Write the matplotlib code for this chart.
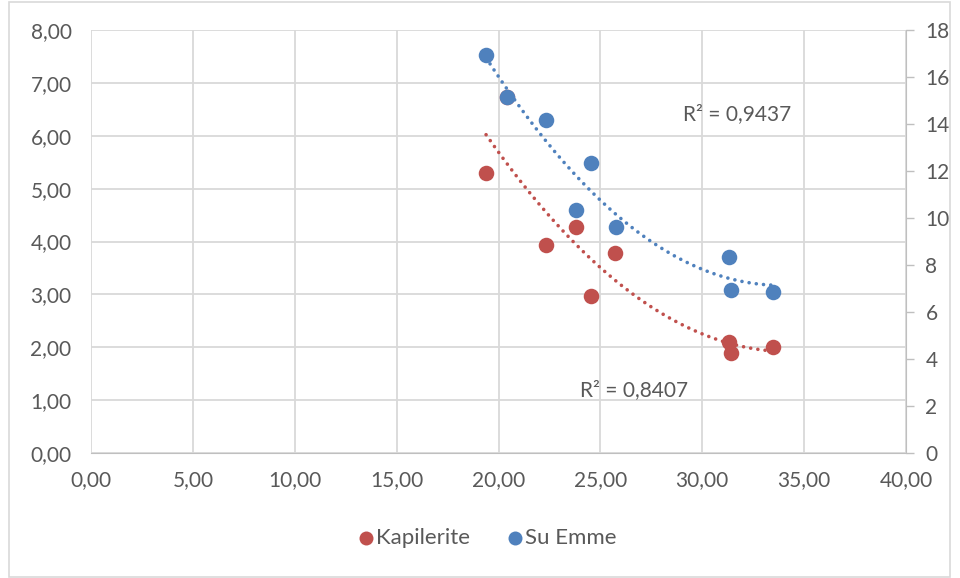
import matplotlib.pyplot as plt
import numpy as np

# data
x_kap = [19.39, 20.42, 22.33, 23.79, 24.53, 25.70, 31.33, 31.43, 33.49]
y_kap = [5.30, 6.73, 3.94, 4.28, 2.96, 3.79, 2.10, 1.90, 2.01]
x_su = [19.39, 20.42, 22.33, 23.79, 24.53, 25.75, 31.33, 31.43, 33.49]
y_su = [16.94, 15.15, 14.16, 10.32, 12.33, 9.60, 8.36, 6.95, 6.87]

x_ticks = np.arange(0, 41, 5)
left_ticks = np.arange(0, 9, 1)
right_ticks = np.arange(0, 19, 2)

red = '#C0504D'
blue = '#4F81BD'
grid = '#D9D9D9'
txt = '#595959'
fs = 15

plt.rcParams['font.family'] = ['Lato', 'DejaVu Sans']

fig = plt.figure(figsize=(9.6, 5.78), dpi=100)
ax = fig.add_axes([91/960, 125/578, 815/960, 423/578])
ax2 = ax.twinx()

def fmt(v):
    return ('%.2f' % v).replace('.', ',')

# trendlines (2nd order polynomial)
def trend(axis, xs, ys, col):
    c = np.polyfit(xs, ys, 2)
    xx = np.linspace(min(xs), max(xs), 200)
    axis.plot(xx, np.polyval(c, xx), color=col, lw=2.6,
              linestyle=(0, (0.01, 2.0)), dash_capstyle='round', zorder=2)

trend(ax, x_kap, y_kap, red)
ax.scatter(x_kap, y_kap, s=125, color=red, zorder=3, linewidths=0)
trend(ax2, x_su, y_su, blue)
ax2.scatter(x_su, y_su, s=125, color=blue, zorder=3, linewidths=0)

ax.set_xlim(0, 40)
ax.set_ylim(0, 8)
ax2.set_ylim(0, 18)
ax.set_xticks(x_ticks)
ax.set_xticklabels([fmt(v) for v in x_ticks])
ax.set_yticks(left_ticks)
ax.set_yticklabels([fmt(v) for v in left_ticks])
ax2.set_yticks(right_ticks)
ax2.set_yticklabels([str(v) for v in right_ticks])

ax.grid(True, color=grid, lw=1.3)
ax.set_axisbelow(True)
for a in (ax, ax2):
    for s in a.spines.values():
        s.set_visible(False)
ax.spines['bottom'].set_visible(True)
ax.spines['bottom'].set_color('#BFBFBF')
ax2.spines['right'].set_visible(True)
ax2.spines['right'].set_color('#BFBFBF')

ax.tick_params(axis='x', length=0, pad=12, labelsize=fs, labelcolor=txt)
ax.tick_params(axis='y', length=0, pad=14, labelsize=fs, labelcolor=txt)
ax2.tick_params(axis='y', length=6, width=1, color='#BFBFBF', pad=8,
                labelsize=fs, labelcolor=txt)

ax.text(24.0, 1.19, 'R² = 0,8407', fontsize=fs, color=txt, ha='left', va='center')
ax2.text(29.05, 14.42, 'R² = 0,9437', fontsize=fs, color=txt, ha='left', va='center')

# legend
h1 = ax.scatter([], [], s=125, color=red, linewidths=0)
h2 = ax.scatter([], [], s=125, color=blue, linewidths=0)
fig.legend([h1, h2], ['Kapilerite', 'Su Emme'], loc='center',
           bbox_to_anchor=(0.5, 1 - 538/578), ncol=2, frameon=False,
           fontsize=16, labelcolor=txt, handletextpad=-0.55, columnspacing=1.0,
           markerscale=0.9)

# chart border
fig.patches.append(plt.Rectangle((9/960, 1/578), 941/960, 575/578,
                                 transform=fig.transFigure, fill=False,
                                 edgecolor='#D9D9D9', lw=1.2))

fig.savefig('out.png', dpi=100)
